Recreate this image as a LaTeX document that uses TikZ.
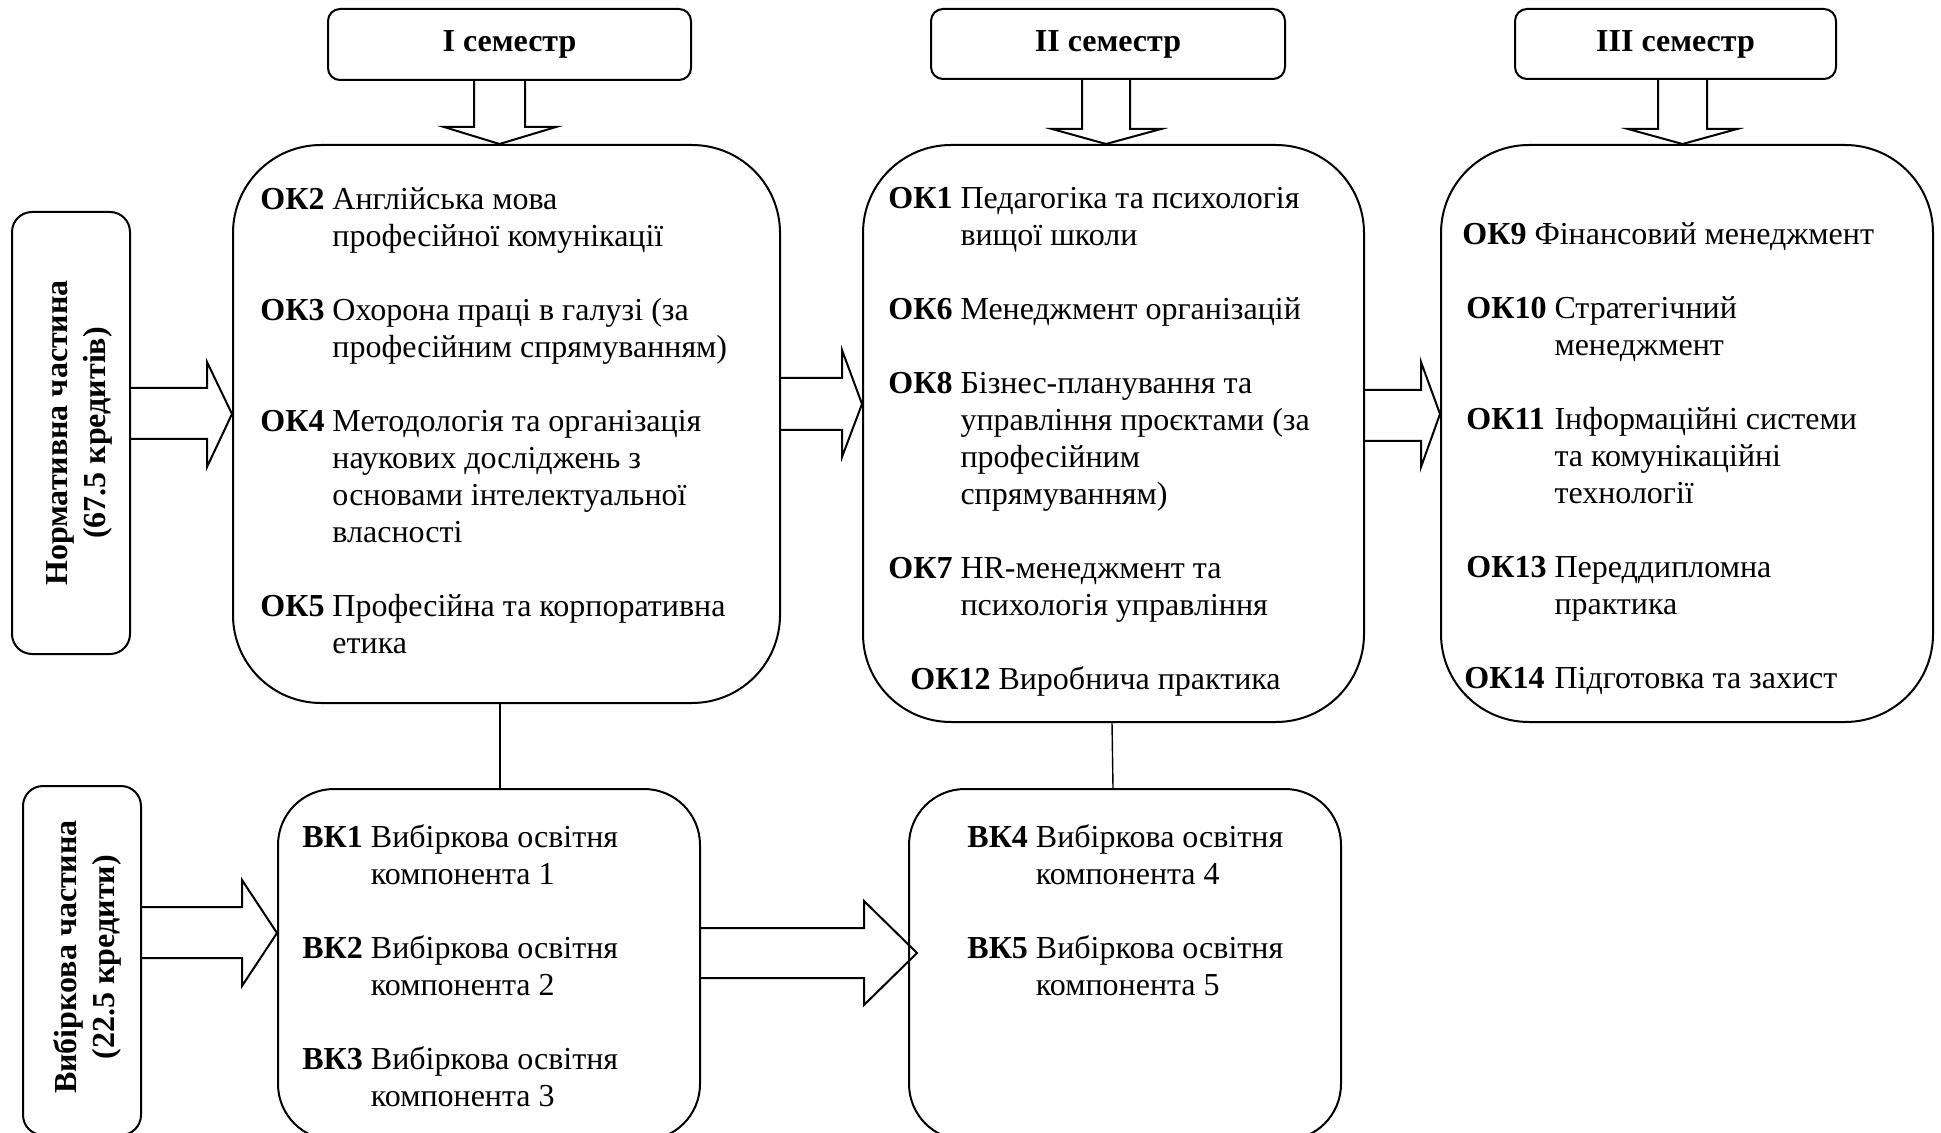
\documentclass[tikz,border=0pt]{standalone}
\usepackage{fontspec}
\setmainfont{Liberation Serif}
\usetikzlibrary{calc,fit}
\begin{document}
\begin{tikzpicture}[x=0.5pt,y=-0.5pt,
  frame/.style={draw, line width=1pt, inner sep=0pt},
  sembox/.style={frame, rounded corners=6pt},
  bigbox/.style={frame, rounded corners=44pt},
  lowbox/.style={frame, rounded corners=28pt},
  sidebox/.style={frame, rounded corners=10pt},
  semtext/.style={font=\bfseries\fontsize{16}{18.5}\selectfont, inner sep=0pt},
  tx/.style={anchor=base west, inner sep=0pt, font=\fontsize{16}{18.5}\selectfont},
  sidetext/.style={rotate=90, align=center, inner sep=0pt, font=\bfseries\fontsize{16}{19}\selectfont},
  blk/.style={draw, line width=1pt, line join=miter},
  link/.style={draw, line width=0.7pt}]
\useasboundingbox (0,0) rectangle (1941,1133);

% semester boxes
\node[sembox, fit={(328,9) (691,80)}] (sem1) {};
\node[sembox, fit={(931,9) (1285,79)}] (sem2) {};
\node[sembox, fit={(1515,9) (1836,79)}] (sem3) {};
\node[semtext] (sem1t) at (sem1.center) {I семестр};
\node[semtext] (sem2t) at (sem2.center) {II семестр};
\node[semtext] (sem3t) at (sem3.center) {III семестр};

% main boxes
\node[bigbox, fit={(233,145) (780,703)}] (box1) {};
\node[bigbox, fit={(863,145) (1364,722)}] (box2) {};
\node[bigbox, fit={(1441,145) (1933,722)}] (box3) {};

% side boxes
\node[sidebox, fit={(12,212) (130,654)}] (norm) {};
\node[sidebox, fit={(23,786) (141,1135)}] (vyb) {};
\node[sidetext] (normt) at (79,433) {Нормативна частина\\(67.5 кредитів)};
\node[sidetext] (vybt) at (87,957) {Вибіркова частина\\(22.5 кредити)};

% lower boxes
\node[lowbox, fit={(278,789) (700,1140)}] (bk1) {};
\node[lowbox, fit={(909,789) (1341,1140)}] (bk4) {};

% texts
\node[tx] (box1t) at (260,210) {\begin{tabular}[t]{@{}l@{\ }l@{}}
\textbf{ОК2} & Англійська мова\\
 & професійної комунікації\\[18.5pt]
\textbf{ОК3} & Охорона праці в галузі (за\\
 & професійним спрямуванням)\\[18.5pt]
\textbf{ОК4} & Методологія та організація\\
 & наукових досліджень з\\
 & основами інтелектуальної\\
 & власності\\[18.5pt]
\textbf{ОК5} & Професійна та корпоративна\\
 & етика
\end{tabular}};

\node[tx] (box2t) at (888,209) {\begin{tabular}[t]{@{}l@{\ }l@{}}
\textbf{ОК1} & Педагогіка та психологія\\
 & вищої школи\\[18.5pt]
\textbf{ОК6} & Менеджмент організацій\\[18.5pt]
\textbf{ОК8} & Бізнес-планування та\\
 & управління проєктами (за\\
 & професійним\\
 & спрямуванням)\\[18.5pt]
\textbf{ОК7} & HR-менеджмент та\\
 & психологія управління\\[18.5pt]
\multicolumn{2}{@{}l@{}}{\hspace{11pt}\textbf{ОК12} Виробнича практика}
\end{tabular}};

\node[tx] (box3t) at (1462,245) {\begin{tabular}[t]{@{}l@{\ }l@{}}
\multicolumn{2}{@{}l@{}}{\textbf{ОК9} Фінансовий менеджмент}\\[18.5pt]
\textbf{\hspace{2pt}ОК10} & Стратегічний\\
 & менеджмент\\[18.5pt]
\textbf{\hspace{2pt}ОК11} & Інформаційні системи\\
 & та комунікаційні\\
 & технології\\[18.5pt]
\textbf{\hspace{2pt}ОК13} & Переддипломна\\
 & практика\\[18.5pt]
\textbf{\hspace{1pt}ОК14} & Підготовка та захист
\end{tabular}};

\node[tx] (bk1t) at (302,847) {\begin{tabular}[t]{@{}l@{\ }l@{}}
\textbf{ВК1} & Вибіркова освітня\\
 & компонента 1\\[18.5pt]
\textbf{ВК2} & Вибіркова освітня\\
 & компонента 2\\[18.5pt]
\textbf{ВК3} & Вибіркова освітня\\
 & компонента 3
\end{tabular}};

\node[tx] (bk4t) at (967,847) {\begin{tabular}[t]{@{}l@{\ }l@{}}
\textbf{ВК4} & Вибіркова освітня\\
 & компонента 4\\[18.5pt]
\textbf{ВК5} & Вибіркова освітня\\
 & компонента 5
\end{tabular}};

% down block arrows
\draw[blk] (474,0 |- sem1.south) -- (474,127) -- (444,127) -- (499.5,0 |- box1.north) -- (556,127) -- (525,127) -- (525,0 |- sem1.south);
\draw[blk] (1082,0 |- sem2.south) -- (1082,129) -- (1052,129) -- (1106,0 |- box2.north) -- (1161,129) -- (1130,129) -- (1130,0 |- sem2.south);
\draw[blk] (1658,0 |- sem3.south) -- (1658,129) -- (1628,129) -- (1682.5,0 |- box3.north) -- (1737,129) -- (1707,129) -- (1707,0 |- sem3.south);

% horizontal block arrows
\draw[blk] (norm.east |- 0,388) -- (207,388) -- (207,362) -- (box1.west |- 0,414) -- (207,467) -- (207,439) -- (norm.east |- 0,439);
\draw[blk] (box1.east |- 0,378) -- (842,378) -- (842,350) -- (box2.west |- 0,404) -- (842,457) -- (842,430) -- (box1.east |- 0,430);
\draw[blk] (box2.east |- 0,390) -- (1421,390) -- (1421,362) -- (box3.west |- 0,414) -- (1421,467) -- (1421,441) -- (box2.east |- 0,441);
\draw[blk] (vyb.east |- 0,907) -- (242,907) -- (242,880) -- (bk1.west |- 0,933) -- (242,986) -- (242,958) -- (vyb.east |- 0,958);
\draw[blk] (bk1.east |- 0,928) -- (864,928) -- (864,901) -- ($(bk4.west |- 0,953)+(9,0)$) -- (864,1005) -- (864,978) -- (bk1.east |- 0,978);

% vertical links
\draw[link] (500,0 |- box1.south) -- (500,0 |- bk1.north);
\draw[link] (1112,0 |- box2.south) -- (1113,0 |- bk4.north);
\end{tikzpicture}
\end{document}
